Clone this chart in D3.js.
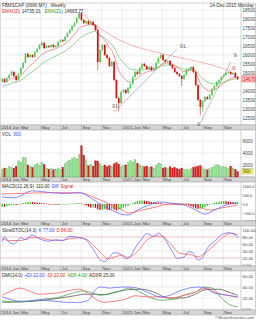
<!DOCTYPE html>
<html><head><meta charset="utf-8">
<script src="https://cdn.jsdelivr.net/npm/d3@7"></script>
<style>
html,body{margin:0;padding:0;background:#fff;}
svg{display:block;font-family:"Liberation Sans",Arial,sans-serif;}
</style></head><body>
<svg id="c" width="256" height="320"></svg>
<script>
// ---------------- DATA ----------------
const firstWeek = "2014-01-06";
const opens  = [14560,14670,14500,14720,14890,15060,14830,14610,14940,15280,15560,16060,15890,16000,15890,16170,16330,16560,16670,16390,16500,16440,16560,16440,16500,16720,16830,16780,17000,17220,17390,17610,17780,18060,18330,17940,17780,17890,17720,17830,17670,17390,15610,16280,16560,16000,15830,15390,15610,14610,13610,13330,13940,14060,13890,14170,14390,14780,15060,14940,15280,15500,15390,15220,15330,15170,15280,15560,15830,16000,15720,15610,15670,15440,15280,15060,14940,14830,14670,14890,15170,15220,15330,15060,14330,13500,13110,13440,13670,13560,13780,14110,14280,14500,14610,14780,14890,15000,15060,14940,15000,14780];
const highs  = [14750,14720,14780,14950,15120,15110,14870,15000,15330,15620,16120,16130,16060,16050,16230,16390,16610,16780,16720,16560,16560,16610,16610,16560,16780,16890,16890,17060,17280,17450,17670,17840,18110,18440,18390,18000,17950,17950,17890,17890,17720,17440,16330,16610,16610,16060,15890,15670,15670,14670,13670,14000,14110,14110,14220,14440,14830,15110,15110,15330,15560,15560,15440,15390,15390,15330,15610,15890,16060,16060,15780,15720,15720,15500,15330,15110,15000,14890,14940,15220,15280,15390,15390,15110,14390,13560,13500,13720,13720,13830,14170,14330,14560,14670,14830,14940,15060,15110,15110,15060,15060,14830];
const lows   = [14500,14440,14450,14680,14850,14780,14530,14580,14900,15240,15520,15830,15840,15830,15850,16120,16290,16520,16330,16350,16390,16400,16390,16390,16450,16680,16720,16740,16950,17170,17340,17560,17730,18000,17890,17720,17720,17670,17670,17610,17330,15170,15560,16220,15940,15780,15330,15330,14560,13560,12890,13280,13890,13830,13830,14110,14330,14720,14890,14890,15220,15330,15170,15170,15110,15110,15220,15500,15780,15670,15560,15560,15390,15220,15000,14890,14780,14280,14610,14830,15110,15170,15000,14280,13440,12670,12830,13390,13500,13500,13720,14060,14220,14440,14560,14720,14830,14940,14890,14890,14720,14610];
const closes = [14670,14500,14720,14890,15060,14830,14610,14940,15280,15560,16060,15890,16000,15890,16170,16330,16560,16670,16390,16500,16440,16560,16440,16500,16720,16830,16780,17000,17220,17390,17610,17780,18060,18330,17940,17780,17890,17720,17830,17670,17390,15610,16280,16560,16000,15830,15390,15610,14610,13610,13330,13940,14060,13890,14170,14390,14780,15060,14940,15280,15500,15390,15220,15330,15170,15280,15560,15830,16000,15720,15610,15670,15440,15280,15060,14940,14830,14670,14890,15170,15220,15330,15060,14330,13500,13110,13440,13670,13560,13780,14110,14280,14500,14610,14780,14890,15000,15060,14940,15000,14780,14670];
const volumes = [1300,1500,1400,1700,1600,1500,1800,2700,2500,3300,3200,2000,1800,1600,2000,2300,2000,2400,2100,1500,1300,1400,1200,1300,1500,1300,1600,2200,2600,2800,3100,3300,3000,3800,5200,3600,2800,1900,2100,1800,2700,2600,2200,1800,2000,1700,1900,1800,2200,2400,2100,1700,1900,2000,2400,2700,2500,2900,2300,2000,1800,1700,1800,1600,1700,1500,1900,2300,2200,1500,1600,1400,1700,1500,1600,1400,1300,1500,1200,1300,1200,1400,1600,1700,1800,1900,1500,1300,1200,1400,1600,1800,2100,1900,1700,1800,1600,1500,1800,1500,1300,900];
const ema10Start = 14500, ema21Start = 14220;

// MACD (read at sparse week indices)
const macdDiffIdx = [0,5,13,21,27,33,38,42,46,51,54,58,63,67,72,78,83,87,91,96,101];
const macdDiffVal = [400,350,750,650,600,650,350,0,-290,-580,-630,-345,-57,115,57,-57,-345,-575,-345,-57,57];
const macdSigIdx  = [0,14,27,34,39,45,50,54,60,66,72,79,83,89,94,101];
const macdSigVal  = [575,630,650,630,400,57,-230,-517,-345,-172,0,0,-115,-345,-230,-57];
const macdHist = [-150,-160,-120,-90,-60,-40,-60,-30,10,50,90,110,120,110,
  100,80,60,50,40,20,0,-20,-30,-40,-50,-40,-30,-20,0,10,20,30,40,30,
  20,-20,-80,-150,-200,-200,-220,
  -300,-340,-320,-300,-330,-340,-300,-320,-360,-320,-280,-200,-150,-100,
  -20,50,120,170,200,200,190,170,150,120,100,80,
  60,40,20,0,-10,-20,-30,-40,-50,-60,-70,-60,
  -60,-90,-140,-200,-250,-280,-260,-220,-180,-100,-30,20,
  60,100,130,160,170,160,140,120,110,110,110];

// Slow stochastic
const stochKIdx = [0,1,3,5,8,10,13,16,20,23,26,29,33,36,38,40,42,44,46,48,51,53,55,57,60,62,65,67,70,73,75,78,80,82,84,86,88,91,94,97,100,101];
const stochKVal = [67,80,65,60,78,72,86,75,68,72,70,82,78,72,55,35,15,10,22,35,30,18,25,48,76,90,81,91,71,38,19,23,38,34,14,22,48,67,86,92,86,77];
const stochDIdx = [0,3,8,12,16,20,25,29,33,37,40,43,45,48,51,54,58,62,66,69,72,76,81,84,87,91,95,98,101];
const stochDVal = [75,70,70,78,78,72,70,75,78,70,50,30,18,22,28,22,38,71,83,81,62,34,29,23,34,57,81,91,86];

// DMI
const plusDIIdx = [0,2,8,12,16,20,25,29,33,37,40,44,48,53,57,63,68,72,78,83,85,88,91,96,101];
const plusDIVal = [25,29,38,32,27,28,30,34,36,28,18,12,14,18,24,22,22,20,25,31,35,38,31,25,22];
const minusDIIdx = [0,3,8,12,16,20,25,29,33,37,40,42,46,51,54,58,63,68,72,75,80,84,87,91,97,101];
const minusDIVal = [22,18,14,15,17,15,13,12,12,16,35,40,38,40,40,38,29,22,25,31,38,40,38,29,25,22];
const adxIdx = [0,5,12,18,25,31,35,38,42,46,51,54,58,63,68,74,78,83,87,90,94,98,101];
const adxVal = [15,13,14,18,22,30,33,30,25,28,33,38,33,22,16,18,25,31,40,38,20,7,4];
const adxrIdx = [0,8,16,25,31,36,40,44,48,54,60,66,71,77,83,87,93,97,101];
const adxrVal = [12,13,15,20,24,27,27,26,30,35,36,29,20,20,27,35,36,31,25];

// Drawn lines / annotations (week index, price)
const resistCurve = [[35,18280],[40,17670],[47,17060],[54,16610],[64,16220],[77,15830],[90,15440],[98,15110]];
const trendLines = [[[48,12830],[75,16330]],[[85,12220],[98,15610]]];
const notes = [{t:"SI",i:47.2,p:13060,c:"#444"},{t:"SL",i:76.2,p:16390,c:"#444"},{t:"S",i:83.6,p:12080,c:"#444"},{t:"S",i:99.3,p:15870,c:"#444"},{t:"R",i:98.6,p:15170,c:"#e33"}];

const priceTicks = [12000,12500,13000,13500,14000,14500,15000,15500,16000,16500,17000,17500,18000,18500];
const volTicks = [2000,4000,6000];
const macdTicks = [-1000,-500,0,500,1000];
const stochTicks = [0,20,40,60,80,100];
const dmiTicks = [0,20,40,60];
const monthTicks = ["2014-01-01","2014-03-01","2014-05-01","2014-07-01","2014-09-01","2014-11-01","2015-01-01","2015-03-01","2015-05-01","2015-07-01","2015-09-01","2015-11-01"];
const monthLabels = ["2014 Jan","Mar","May","Jul","Sep","Nov","2015 Jan","Mar","May","Jul","Sep","Nov"];

// ---------------- DRAW ----------------
const svg = d3.select("#c");
const parse = d3.timeParse("%Y-%m-%d");
const t0 = parse(firstWeek);
const dates = closes.map((_, i) => d3.timeDay.offset(t0, 7 * i));
const PL = 0.5, PR = 241, AR = 255.5;
const x = d3.scaleTime().domain([parse("2014-01-01"), parse("2015-12-24")]).range([PL, PR]);
const xi = i => x(d3.timeDay.offset(t0, Math.round(7 * i)));
const FS = 4.6;

const panels = {
  price: {top: 3, bottom: 125},
  vol:   {top: 130, bottom: 177},
  macd:  {top: 182, bottom: 221},
  stoch: {top: 226, bottom: 266},
  dmi:   {top: 271, bottom: 310}
};
const yP = d3.scaleLinear().domain([12000, 18500]).range([127, 10]);
const yV = d3.scaleLinear().domain([0, 6000]).range([177, 141]);
const yM = d3.scaleLinear().domain([-1000, 1000]).range([221.5, 186.5]);
const yS = d3.scaleLinear().domain([0, 100]).range([265, 230]);
const yD = d3.scaleLinear().domain([0, 60]).range([309, 276]);

function panelFrame(p, scale, ticks, fmt, fs, skipY) {
  const g = svg.append("g");
  g.append("rect").attr("x", PL).attr("y", p.top).attr("width", AR - PL).attr("height", p.bottom - p.top)
    .attr("fill", "#fff").attr("stroke", "#b0b0b0").attr("stroke-width", 0.6);
  g.selectAll(".vg").data(monthTicks).join("line")
    .attr("x1", d => x(parse(d))).attr("x2", d => x(parse(d)))
    .attr("y1", p.top).attr("y2", p.bottom).attr("stroke", "#e2e2e2").attr("stroke-width", 0.6);
  g.selectAll(".hg").data(ticks).join("line")
    .attr("x1", PL).attr("x2", PR).attr("y1", d => scale(d)).attr("y2", d => scale(d))
    .attr("stroke", "#e2e2e2").attr("stroke-width", 0.6);
  const shown = ticks.filter(t => skipY === undefined || Math.abs(scale(t) - skipY) > 4.5);
  const ax = d3.axisRight(scale).tickValues(shown).tickFormat(fmt).tickSize(0).tickPadding(0);
  const a = g.append("g").attr("transform", `translate(${PR + 1.5},0)`).call(ax);
  a.select(".domain").remove();
  a.selectAll("text").attr("font-size", fs || FS).attr("fill", "#444").attr("font-family", "Liberation Sans, Arial, sans-serif");
  g.append("line").attr("x1", PR).attr("x2", PR).attr("y1", p.top).attr("y2", p.bottom).attr("stroke", "#b0b0b0").attr("stroke-width", 0.6);
  return g;
}
function band(top) {
  const g = svg.append("g");
  g.append("rect").attr("x", PL).attr("y", top).attr("width", AR - PL).attr("height", 5)
    .attr("fill", "#d6d6d6").attr("stroke", "#a0a0a0").attr("stroke-width", 0.5);
  g.selectAll("text").data(monthTicks).join("text")
    .attr("x", d => x(parse(d)) + 1).attr("y", top + 4.1)
    .attr("font-size", 4.3).attr("fill", "#444").text((d, i) => monthLabels[i]);
  g.selectAll(".tk").data(monthTicks).join("line")
    .attr("x1", d => x(parse(d))).attr("x2", d => x(parse(d))).attr("y1", top).attr("y2", top + 5)
    .attr("stroke", "#999").attr("stroke-width", 0.4);
}

// Price panel
const lastC = closes[closes.length - 1];
panelFrame(panels.price, yP, priceTicks, d3.format("d"), FS, yP(lastC));
band(125);
const lineIdx = d3.line().x(d => xi(d[0])).y(d => yP(d[1]));
svg.append("path").datum(resistCurve).attr("d", lineIdx.curve(d3.curveMonotoneX))
  .attr("fill", "none").attr("stroke", "#f2a0a0").attr("stroke-width", 0.8);
function ema(arr, n, seed) {
  const k = 2 / (n + 1); let e = seed;
  return arr.map(v => (e = v * k + e * (1 - k)));
}
const e10 = ema(closes, 10, ema10Start), e21 = ema(closes, 21, ema21Start);
const lineW = d3.line().x((d, i) => x(dates[i])).y(d => yP(d)).curve(d3.curveMonotoneX);
svg.append("path").datum(e21).attr("d", lineW).attr("fill", "none").attr("stroke", "#7cc47c").attr("stroke-width", 0.8);
svg.append("path").datum(e10).attr("d", lineW).attr("fill", "none").attr("stroke", "#ee7777").attr("stroke-width", 0.8);
trendLines.forEach(tl => {
  svg.append("line").attr("x1", xi(tl[0][0])).attr("y1", yP(tl[0][1])).attr("x2", xi(tl[1][0])).attr("y2", yP(tl[1][1]))
    .attr("stroke", "#999").attr("stroke-width", 0.6);
});
const cw = 1.7;
const cg = svg.append("g");
closes.forEach((c, i) => {
  const up = c >= opens[i];
  const col = up ? "#55cc55" : "#e01010";
  const cx = x(dates[i]);
  cg.append("line").attr("x1", cx).attr("x2", cx).attr("y1", yP(highs[i])).attr("y2", yP(lows[i]))
    .attr("stroke", up ? "#3a9a3a" : "#b00000").attr("stroke-width", 0.5);
  const y1 = yP(Math.max(c, opens[i])), y2 = yP(Math.min(c, opens[i]));
  cg.append("rect").attr("x", cx - cw / 2).attr("y", y1).attr("width", cw).attr("height", Math.max(0.7, y2 - y1))
    .attr("fill", col);
});
notes.forEach(n => {
  svg.append("text").attr("x", xi(n.i)).attr("y", yP(n.p)).attr("font-size", 5).attr("fill", n.c)
    .attr("font-family", "DejaVu Serif, serif").text(n.t);
});
svg.append("rect").attr("x", PR + 1).attr("y", yP(lastC) - 3).attr("width", 14).attr("height", 6)
  .attr("fill", "#ffd6d6").attr("stroke", "#e03030").attr("stroke-width", 0.5);
svg.append("text").attr("x", PR + 2).attr("y", yP(lastC) + 1.7).attr("font-size", FS).attr("fill", "#d00")
  .text(d3.format("d")(lastC));
const hdr = svg.append("text").attr("x", 2).attr("y", 7).attr("font-size", 4.6).attr("fill", "#333");
hdr.append("tspan").text("FBMSCAP (0696.MY)");
hdr.append("tspan").attr("dx", 4).text("Weekly");
svg.append("text").attr("x", 254).attr("y", 7).attr("text-anchor", "end").attr("font-size", 4.6).attr("fill", "#333")
  .text("14-Dec-2015 Monday");
const h2 = svg.append("text").attr("x", 2).attr("y", 13).attr("font-size", 4.6);
h2.append("tspan").attr("fill", "#e03030").text("EMA(10)");
h2.append("tspan").attr("fill", "#333").attr("dx", 1.5).text(d3.format(".2f")(e10[e10.length - 1]));
h2.append("tspan").attr("fill", "#2a9a2a").attr("dx", 4).text("EMA(21)");
h2.append("tspan").attr("fill", "#333").attr("dx", 1.5).text(d3.format(".2f")(e21[e21.length - 1]));

// Volume panel
const lastV = volumes[volumes.length - 1];
panelFrame(panels.vol, yV, volTicks, d3.format("d"), FS, yV(lastV));
band(177);
const vg = svg.append("g");
volumes.forEach((v, i) => {
  const up = closes[i] >= opens[i];
  vg.append("rect").attr("x", x(dates[i]) - cw / 2).attr("y", yV(v)).attr("width", cw).attr("height", yV(0) - yV(v))
    .attr("fill", up ? "#8ddf8d" : "#d81c1c").attr("stroke", up ? "#5bb55b" : "#a00").attr("stroke-width", 0.25);
});
svg.append("rect").attr("x", PR + 1).attr("y", yV(lastV) - 3).attr("width", 11).attr("height", 5.5)
  .attr("fill", "#ffff55").attr("stroke", "#999").attr("stroke-width", 0.4);
svg.append("text").attr("x", PR + 2).attr("y", yV(lastV) + 1.2).attr("font-size", FS).attr("fill", "#333").text(lastV);
const vt = svg.append("text").attr("x", 2).attr("y", 136).attr("font-size", 4.6);
vt.append("tspan").attr("fill", "#333").text("VOL");
vt.append("tspan").attr("fill", "#3355ff").attr("dx", 2).text(lastV);

// MACD panel
panelFrame(panels.macd, yM, macdTicks, d3.format(".1f"), 3.9);
band(221);
const mg = svg.append("g");
macdHist.forEach((h, i) => {
  const rising = i === 0 ? true : h >= macdHist[i - 1];
  mg.append("rect").attr("x", x(dates[i]) - 0.65).attr("width", 1.3)
    .attr("y", Math.min(yM(h), yM(0))).attr("height", Math.max(0.5, Math.abs(yM(h) - yM(0))))
    .attr("fill", rising ? "#22cc22" : "#cc0000");
});
const sparse = (idx, val, ys) => d3.line().x((d, k) => x(dates[idx[k]])).y(d => ys(d)).curve(d3.curveMonotoneX)(val);
svg.append("path").attr("d", sparse(macdSigIdx, macdSigVal, yM)).attr("fill", "none").attr("stroke", "#ff6060").attr("stroke-width", 0.8);
svg.append("path").attr("d", sparse(macdDiffIdx, macdDiffVal, yM)).attr("fill", "none").attr("stroke", "#6a6aff").attr("stroke-width", 0.8);
const mt = svg.append("text").attr("x", 2).attr("y", 187.5).attr("font-size", 4.6);
mt.append("tspan").attr("fill", "#333").text("MACD(12,26,9)");
mt.append("tspan").attr("fill", "#333").attr("dx", 2).text(d3.format(".2f")(macdHist[macdHist.length - 1]));
mt.append("tspan").attr("fill", "#3355ff").attr("dx", 2).text("Diff");
mt.append("tspan").attr("fill", "#e03030").attr("dx", 2).text("Signal");

// Stochastic panel
panelFrame(panels.stoch, yS, stochTicks, d3.format(".2f"), 4.3);
band(266);
[80, 20].forEach(v => svg.append("line").attr("x1", PL).attr("x2", PR).attr("y1", yS(v)).attr("y2", yS(v))
  .attr("stroke", "#f0a0a0").attr("stroke-width", 0.5));
svg.append("path").attr("d", sparse(stochDIdx, stochDVal, yS)).attr("fill", "none").attr("stroke", "#ff6060").attr("stroke-width", 0.8);
svg.append("path").attr("d", sparse(stochKIdx, stochKVal, yS)).attr("fill", "none").attr("stroke", "#6a6aff").attr("stroke-width", 0.8);
const st = svg.append("text").attr("x", 2).attr("y", 231.5).attr("font-size", 4.6);
st.append("tspan").attr("fill", "#333").text("SlowSTOC(14,3)");
st.append("tspan").attr("fill", "#3355ff").attr("dx", 2).text("K " + d3.format(".2f")(stochKVal[stochKVal.length - 1]));
st.append("tspan").attr("fill", "#e03030").attr("dx", 2).text("D " + d3.format(".2f")(stochDVal[stochDVal.length - 1]));

// DMI panel
panelFrame(panels.dmi, yD, dmiTicks, d3.format(".2f"), 4.3);
band(310);
svg.append("path").attr("d", sparse(adxrIdx, adxrVal, yD)).attr("fill", "none").attr("stroke", "#444").attr("stroke-width", 0.7);
svg.append("path").attr("d", sparse(adxIdx, adxVal, yD)).attr("fill", "none").attr("stroke", "#3a9a3a").attr("stroke-width", 0.7);
svg.append("path").attr("d", sparse(plusDIIdx, plusDIVal, yD)).attr("fill", "none").attr("stroke", "#ff6060").attr("stroke-width", 0.8);
svg.append("path").attr("d", sparse(minusDIIdx, minusDIVal, yD)).attr("fill", "none").attr("stroke", "#6a6aff").attr("stroke-width", 0.8);
const dt = svg.append("text").attr("x", 2).attr("y", 276.5).attr("font-size", 4.6);
dt.append("tspan").attr("fill", "#333").text("DMI(14,0)");
dt.append("tspan").attr("fill", "#3355ff").attr("dx", 2).text("+DI " + d3.format(".2f")(minusDIVal[minusDIVal.length - 1]));
dt.append("tspan").attr("fill", "#e03030").attr("dx", 2).text("-DI " + d3.format(".2f")(plusDIVal[plusDIVal.length - 1]));
dt.append("tspan").attr("fill", "#2a9a2a").attr("dx", 2).text("ADX " + d3.format(".2f")(adxVal[adxVal.length - 1]));
dt.append("tspan").attr("fill", "#333").attr("dx", 2).text("ADXR " + d3.format(".2f")(adxrVal[adxrVal.length - 1]));

svg.append("text").attr("x", 254).attr("y", 319).attr("text-anchor", "end").attr("font-size", 4.3).attr("fill", "#555")
  .text("©ShareInvestor.com");
</script>
</body></html>
